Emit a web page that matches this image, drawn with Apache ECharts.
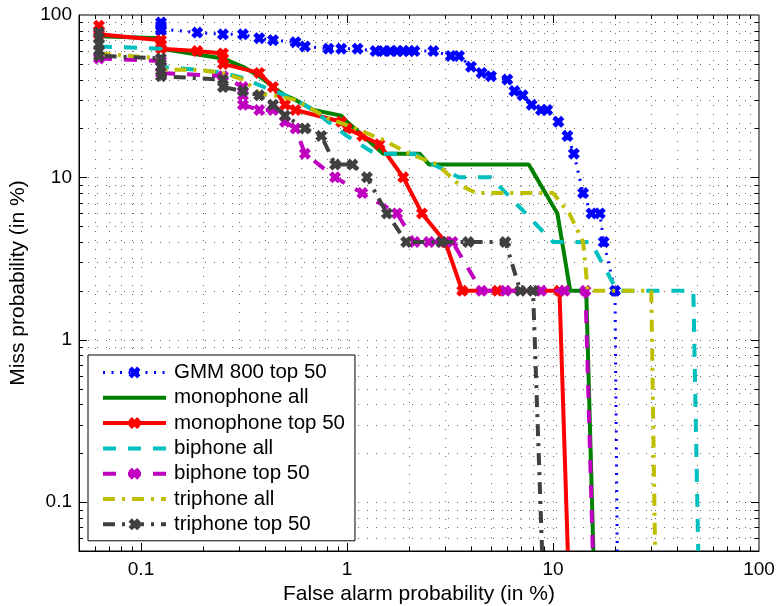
<!DOCTYPE html>
<html>
<head>
<meta charset="utf-8">
<script src="https://cdn.jsdelivr.net/npm/echarts@6/dist/echarts.min.js"></script>
<style>
html,body{margin:0;padding:0;background:#fff;}
#chart{width:778px;height:606px;}
</style>
</head>
<body>
<div id="chart"></div>
<script>
// ---- data (False alarm %, Miss %) ----
const seriesNames = ['GMM 800 top 50','monophone all','monophone top 50','biphone all','biphone top 50','triphone all','triphone top 50'];
const xRange = [0.05, 100];
const yRange = [0.05, 100];
const xTickLabels = ['0.1','1','10','100'];
const yTickLabels = ['0.1','1','10','100'];

const gmmTop50 = [[0.125,90],[0.125,86],[0.125,82],[0.125,80],[0.1875,78],[0.25,76],[0.3125,76],[0.375,72],[0.4375,70],[0.5625,68],[0.625,64],[0.8125,62],[0.9375,62],[1.125,62],[1.375,60],[1.5,60],[1.625,60],[1.75,60],[1.875,60],[2.0,60],[2.125,60],[2.625,60],[3.1875,56],[3.5,56],[4.0,48],[4.5,44],[5.0,42],[6.0,40],[6.5,34],[7.125,32],[7.875,28],[8.75,26],[9.375,26],[10.625,22],[11.75,18],[12.625,14],[14.0,8],[15.375,6],[16.875,6],[17.625,4],[20.0,2],[20.5,0.05]];
const monoAll = [[0.0625,74],[0.125,72],[0.125,62],[0.25,54],[0.3125,48],[0.375,42],[0.4375,36],[0.5,32],[0.5625,30],[0.6875,26],[0.9375,24],[1.0,22],[1.5,14],[2.25,14],[2.5,12],[7.625,12],[10.5,6],[12.125,2],[14.5,2],[15.7,0.05]];
const monoTop50 = [[0.0625,86],[0.0625,80],[0.0625,76],[0.125,70],[0.125,66],[0.125,62],[0.1875,60],[0.25,58],[0.25,54],[0.25,50],[0.375,44],[0.4375,36],[0.5,28],[0.5625,26],[0.9375,22],[1.0,20],[1.1875,18],[1.4375,16],[1.875,10],[2.3125,6],[3.0,4],[3.625,2],[5.375,2],[10.75,2],[11.8,0.05]];
const biAll = [[0.0625,64],[0.125,62],[0.125,48],[0.1875,46],[0.25,44],[0.3125,41],[0.375,37],[0.5,32],[0.625,28],[0.8125,22],[1.0,18],[1.25,15],[1.375,14],[2.125,14],[2.625,12],[3.5,10],[5.0,10],[10.0,4],[15.25,4],[20.5,2],[48.0,2],[50.7,0.05]];
const biTop50 = [[0.0625,54],[0.125,52],[0.125,48],[0.125,44],[0.25,42],[0.3125,36],[0.3125,32],[0.3125,28],[0.375,26],[0.4375,26],[0.5,22],[0.5625,20],[0.625,14],[0.875,10],[1.1875,8],[1.75,6],[2.125,4],[2.5,4],[2.875,4],[3.25,4],[4.5,2],[5.875,2],[8.75,2],[11.375,2],[14.375,2],[15.6,0.05]];
const triAll = [[0.0625,58],[0.125,54],[0.125,46],[0.1875,46],[0.25,44],[0.3125,40],[0.375,33],[0.4375,32],[0.5625,30],[0.8125,23],[1.0,21],[1.5,17],[2.0,14],[2.75,12],[3.5,9],[4.25,8],[10.0,8],[12.0,6],[14.0,4],[14.75,2],[30.0,2],[31.3,0.05]];
const triTop50 = [[0.0625,78],[0.0625,72],[0.0625,66],[0.0625,60],[0.0625,56],[0.125,54],[0.125,48],[0.125,42],[0.25,40],[0.25,36],[0.3125,34],[0.375,32],[0.4375,28],[0.5,24],[0.625,20],[0.75,18],[0.875,12],[1.0625,12],[1.25,10],[1.5625,6],[1.9375,4],[2.875,4],[3.875,4],[5.875,4],[6.9375,2],[8.0,2],[8.85,0.05]];

const allData = [gmmTop50, monoAll, monoTop50, biAll, biTop50, triAll, triTop50];

// ---- styles ----
const X_MARK = 'path://M2.8,0 L5,2.2 L7.2,0 L10,2.8 L7.8,5 L10,7.2 L7.2,10 L5,7.8 L2.8,10 L0,7.2 L2.2,5 L0,2.8 Z';
const styles = [
  {color:'#0000FF', width:3,   type:[2,6.5],       marker:true},
  {color:'#008000', width:4,   type:'solid',       marker:false},
  {color:'#FF0000', width:4,   type:'solid',       marker:true},
  {color:'#00BFBF', width:4,   type:[13,12],       marker:false},
  {color:'#BF00BF', width:4,   type:[13,12],       marker:true},
  {color:'#BFBF00', width:4,   type:[12,7,3,7],    marker:false},
  {color:'#404040', width:4,   type:[12,7,3,7],    marker:true}
];
const FONT = '"Liberation Sans", Arial, Helvetica, sans-serif';

function isDecade(v){ const l = Math.log10(v); return Math.abs(l - Math.round(l)) < 1e-6; }

// grid positions (1..9 x 10^k) inside the axis ranges
function gridValues(range){
  const out = [];
  for (let e = -3; e <= 3; e++) {
    for (let m = 1; m <= 9; m++) {
      const v = +(m * Math.pow(10, e)).toPrecision(4);
      if (v > range[0] * 1.0001 && v < range[1] * 0.9999) out.push(v);
    }
  }
  return out;
}
const xGrid = gridValues(xRange);
const yGrid = gridValues(yRange);

function toData(arr){
  return arr.map((p, i) => i === arr.length - 1 ? {value: p, symbol: 'none'} : p);
}

const GRID_STYLE = {stroke:'#666', lineWidth:1, lineDash:[1,8]};
const TICK_STYLE = {stroke:'#000', lineWidth:1};

function renderXGrid(params, api){
  const v = api.value(0);
  const t = api.coord([v, yRange[1]]);
  const b = api.coord([v, yRange[0]]);
  const x = Math.round(t[0]) + 0.5;
  const L = isDecade(v) ? 8 : 4;
  return {type:'group', children:[
    {type:'line', shape:{x1:x, y1:t[1], x2:x, y2:b[1]}, style:GRID_STYLE},
    {type:'line', shape:{x1:x, y1:b[1], x2:x, y2:b[1]-L}, style:TICK_STYLE},
    {type:'line', shape:{x1:x, y1:t[1], x2:x, y2:t[1]+L}, style:TICK_STYLE}
  ]};
}
function renderYGrid(params, api){
  const v = api.value(1);
  const l = api.coord([xRange[0], v]);
  const r = api.coord([xRange[1], v]);
  const y = Math.round(l[1]) + 0.5;
  const L = isDecade(v) ? 8 : 4;
  return {type:'group', children:[
    {type:'line', shape:{x1:l[0], y1:y, x2:r[0], y2:y}, style:GRID_STYLE},
    {type:'line', shape:{x1:l[0], y1:y, x2:l[0]+L, y2:y}, style:TICK_STYLE},
    {type:'line', shape:{x1:r[0], y1:y, x2:r[0]-L, y2:y}, style:TICK_STYLE}
  ]};
}

function labelFormatter(labels){
  return function(v){
    if (!isDecade(v)) return '';
    const s = String(+v.toPrecision(6));
    return labels.indexOf(s) >= 0 ? s : '';
  };
}

const series = [
  {type:'custom', name:'_xgrid', data: xGrid.map(v => [v, 1]), encode:{x:0, y:1}, renderItem: renderXGrid, silent:true, z:1, animation:false},
  {type:'custom', name:'_ygrid', data: yGrid.map(v => [1, v]), encode:{x:0, y:1}, renderItem: renderYGrid, silent:true, z:1, animation:false}
];
allData.forEach((d, i) => {
  const s = styles[i];
  series.push({
    type:'line',
    name: seriesNames[i],
    data: toData(d),
    symbol: s.marker ? X_MARK : 'circle',
    showSymbol: s.marker,
    symbolSize: 12,
    lineStyle: {color: s.color, width: s.width, type: s.type},
    itemStyle: {color: s.color, opacity: s.marker ? 1 : 0},
    emphasis: {disabled: true},
    silent: true,
    clip: true,
    z: 2 + i * 0.01,
    animation: false
  });
});

const chart = echarts.init(document.getElementById('chart'), null, {renderer:'canvas'});
chart.setOption({
  animation: false,
  backgroundColor: '#fff',
  textStyle: {fontFamily: FONT},
  grid: {left:79, right:19, top:15, bottom:55, containLabel:false, outerBoundsMode:'none',
         show:true, borderColor:'#000', borderWidth:1, backgroundColor:'transparent'},
  xAxis: {
    type:'log', logBase:10, min:xRange[0], max:xRange[1],
    name:'False alarm probability (in %)', nameLocation:'middle', nameGap:28,
    nameTextStyle:{fontSize:21, color:'#000', fontFamily:FONT},
    axisLine:{show:true, lineStyle:{color:'#000', width:1}},
    axisTick:{show:false}, splitLine:{show:false}, minorTick:{show:false},
    axisLabel:{show:true, fontSize:19, color:'#000', fontFamily:FONT, margin:9,
               formatter: labelFormatter(xTickLabels), hideOverlap:false}
  },
  yAxis: {
    type:'log', logBase:10, min:yRange[0], max:yRange[1],
    name:'Miss probability (in %)', nameLocation:'middle', nameGap:50,
    nameTextStyle:{fontSize:21, color:'#000', fontFamily:FONT},
    axisLine:{show:true, lineStyle:{color:'#000', width:1}},
    axisTick:{show:false}, splitLine:{show:false}, minorTick:{show:false},
    axisLabel:{show:true, fontSize:19, color:'#000', fontFamily:FONT, margin:7,
               formatter: labelFormatter(yTickLabels), hideOverlap:false}
  },
  legend: {
    orient:'vertical', left:88, top:355,
    padding:[5,10,4,13],
    itemWidth:63, itemHeight:15, itemGap:0.3,
    backgroundColor:'#fff', borderColor:'#000', borderWidth:1, borderRadius:0,
    textStyle:{fontSize:20.5, color:'#000', fontFamily:FONT, lineHeight:25, padding:[0,0,0,3]},
    selectedMode:false,
    data: seriesNames.map((n, i) => ({
      name:n,
      lineStyle:{width: styles[i].width},
      itemStyle: styles[i].marker ? {} : {opacity:0}
    })),
    z: 10
  },
  series: series
});
</script>
</body>
</html>
